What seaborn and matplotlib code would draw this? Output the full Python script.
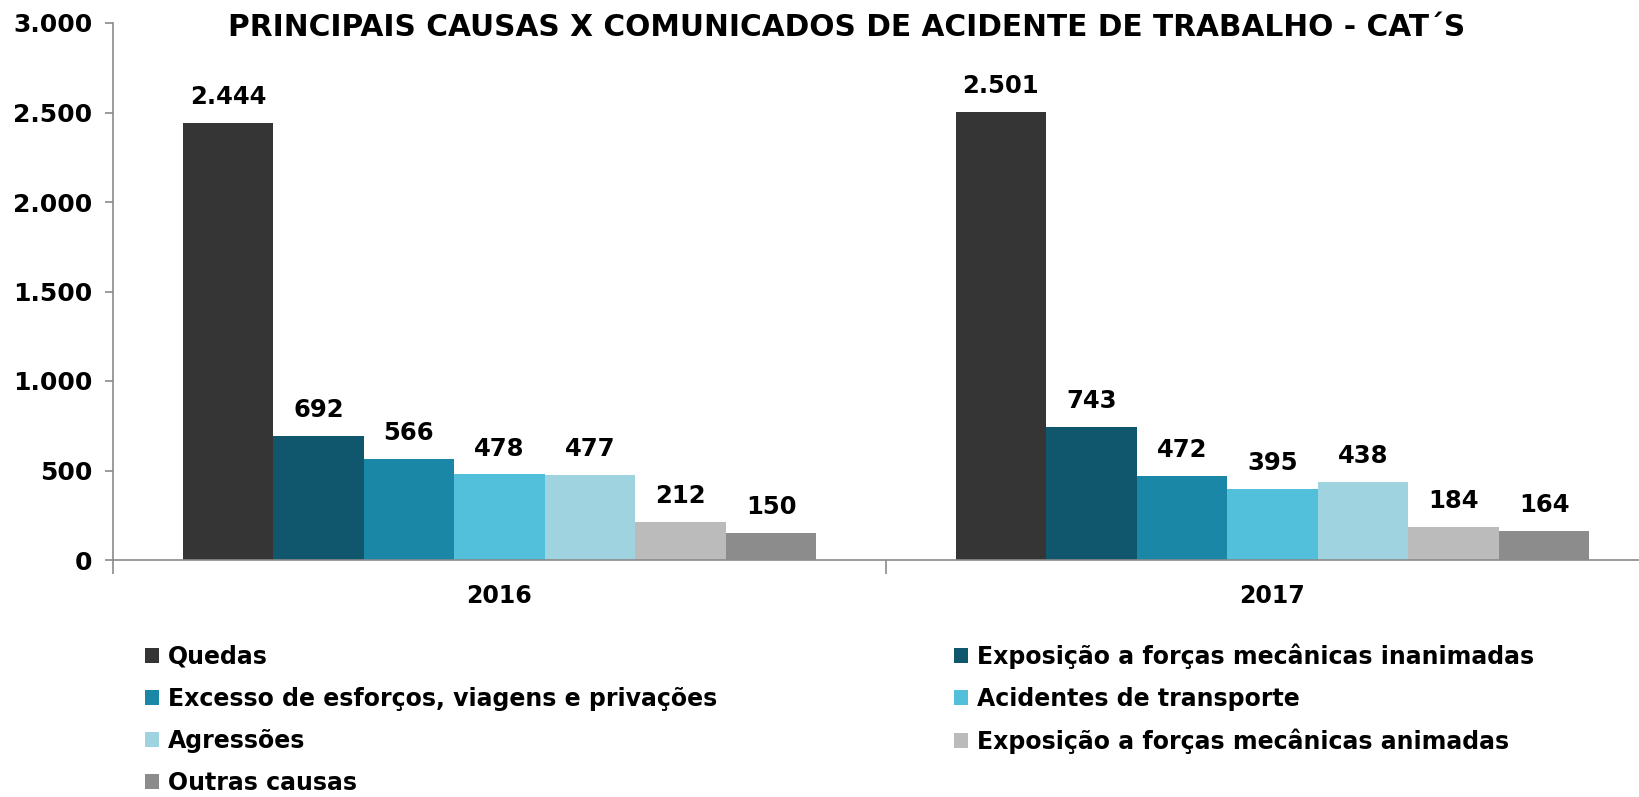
import matplotlib
matplotlib.use("Agg")
import matplotlib.pyplot as plt
import seaborn as sns
import pandas as pd

anos = ["2016", "2017"]
causas = [
    "Quedas",
    "Exposição a forças mecânicas inanimadas",
    "Excesso de esforços, viagens e privações",
    "Acidentes de transporte",
    "Agressões",
    "Exposição a forças mecânicas animadas",
    "Outras causas",
]
valores_2016 = [2444, 692, 566, 478, 477, 212, 150]
valores_2017 = [2501, 743, 472, 395, 438, 184, 164]
cores = ["#353535", "#10566C", "#1A87A6", "#52BFDB", "#9FD3E0", "#BBBBBB", "#8C8C8C"]
yticks = [0, 500, 1000, 1500, 2000, 2500, 3000]
titulo = "PRINCIPAIS CAUSAS X COMUNICADOS DE ACIDENTE DE TRABALHO - CAT´S"

rows = []
for ano, vals in zip(anos, [valores_2016, valores_2017]):
    for c, v in zip(causas, vals):
        rows.append({"ano": ano, "causa": c, "valor": v})
df = pd.DataFrame(rows)

sns.set_style("white")
plt.rcParams["font.family"] = ["DejaVu Sans"]
plt.rcParams["font.weight"] = "bold"
plt.rcParams["text.color"] = "black"
plt.rcParams["xtick.labelcolor"] = "black"
plt.rcParams["ytick.labelcolor"] = "black"

fig = plt.figure(figsize=(16.4, 7.97), dpi=100)
ax = fig.add_axes([113 / 1640, 1 - 560 / 797, (1659 - 113) / 1640, (560 - 23) / 797])

sns.barplot(data=df, x="ano", y="valor", hue="causa", hue_order=causas,
            palette=cores, width=0.82, gap=0, saturation=1, ax=ax, legend=True,
            edgecolor="none")

for cont in ax.containers:
    ax.bar_label(cont, labels=[f"{int(v):,}".replace(",", ".") for v in cont.datavalues],
                 padding=10, fontsize=17.5, fontweight="bold", color="black")

ax.set_ylim(0, 3000)
ax.set_xlim(-0.5, 1.5)
ax.set_yticks(yticks)
ax.set_yticklabels([f"{v:,}".replace(",", ".") for v in yticks], fontsize=18, fontweight="bold")
ax.tick_params(axis="y", length=6, width=1.2, color="#8a8a8a", pad=9, left=True)
ax.tick_params(axis="x", which="major", length=0, labelsize=17, pad=17)
ax.set_xticks([-0.5, 0.5, 1.5], minor=True)
ax.tick_params(axis="x", which="minor", length=10, width=1.2, color="#8a8a8a", bottom=True)
for lbl in ax.get_xticklabels():
    lbl.set_fontweight("bold")
ax.set_xlabel("")
ax.set_ylabel("")
for s in ["top", "right"]:
    ax.spines[s].set_visible(False)
for s in ["left", "bottom"]:
    ax.spines[s].set_color("#8a8a8a")
    ax.spines[s].set_linewidth(1.2)

handles, labels = ax.get_legend_handles_labels()
ax.get_legend().remove()
order = [0, 2, 4, 6, 1, 3, 5]
fig.legend([handles[i] for i in order], [labels[i] for i in order],
           loc="upper left", bbox_to_anchor=(124 / 1640, 1 - 622 / 797),
           ncol=2, frameon=False, prop={"weight": "bold", "size": 17},
           handlelength=0.6, handleheight=0.6, handletextpad=0.35,
           columnspacing=10.05, labelspacing=0.76)

fig.text(847 / 1640, 1 - 28 / 797, titulo, ha="center", va="center",
         fontsize=21.3, fontweight="bold")

fig.savefig("out.png", dpi=100)
